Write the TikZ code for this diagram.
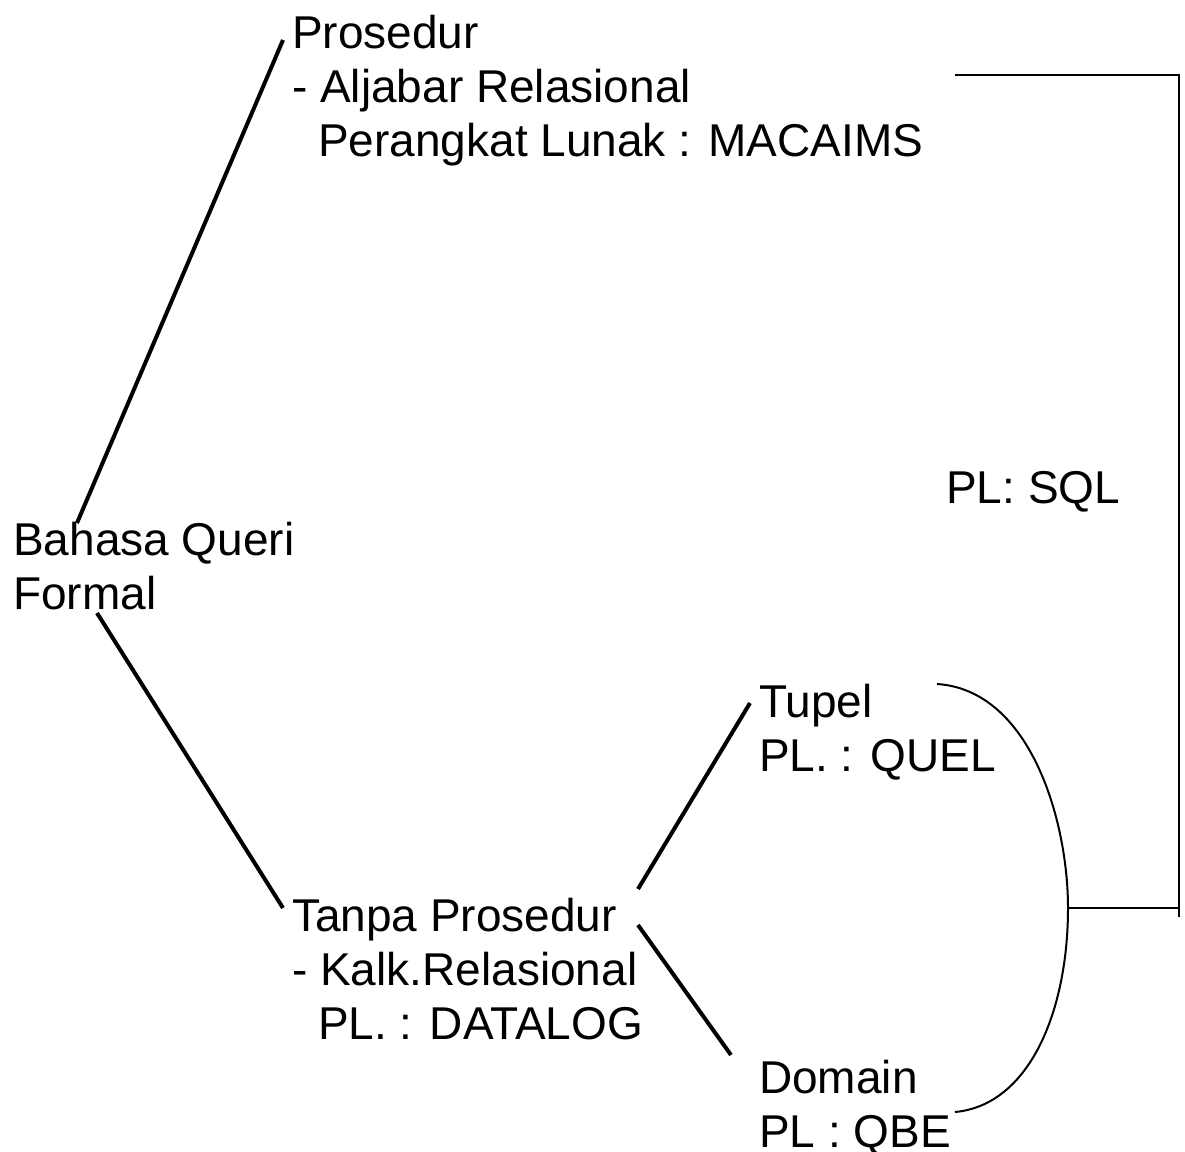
\documentclass[tikz,border=0pt]{standalone}
\usepackage{fontspec}
\setmainfont{Liberation Sans}
\begin{document}
\begin{tikzpicture}[x=1pt,y=-1pt,
  txt/.style={anchor=base west,inner sep=0pt,font=\fontsize{46}{54}\selectfont},
  thick line/.style={line width=4pt},
  thin line/.style={line width=2pt}]
\useasboundingbox (0,0) rectangle (1185,1151);
% texts
\node[txt] (pro1) at (292,48) {Prosedur};
\node[txt] (pro2) at (292,102) {- Aljabar Relasional};
\node[txt] (pro3) at (318,156) {Perangkat Lunak : MACAIMS};
\node[txt] (bq1) at (13,555) {Bahasa Queri};
\node[txt] (bq2) at (13,609) {Formal};
\node[txt] (tp1) at (292,931) {Tanpa Prosedur};
\node[txt] (tp2) at (292,985) {- Kalk.Relasional};
\node[txt] (tp3) at (318,1039) {PL. : DATALOG};
\node[txt] (tu1) at (759,717) {Tupel};
\node[txt] (tu2) at (759,771) {PL. : QUEL};
\node[txt] (do1) at (759,1093) {Domain};
\node[txt] (do2) at (759,1147) {PL : QBE};
\node[txt] (sql) at (946,503) {PL: SQL};
% connector end points
\coordinate (bqTop) at (77,523);
\coordinate (bqBot) at (97,613);
\coordinate (proEnd) at (283,40);
\coordinate (tpEnd) at (283,908);
\coordinate (tpUp) at (638,889);
\coordinate (tpDown) at (638,925);
\coordinate (tuEnd) at (750,703);
\coordinate (doEnd) at (731,1055);
\coordinate (cTop) at (937,684);
\coordinate (cMid) at (1068,908);
\coordinate (cBot) at (955,1112);
\coordinate (bTop) at (955,75);
\coordinate (bCorner) at (1179,75);
\coordinate (bRight) at (1179,917);
\coordinate (bJoin) at (1179,908);
% lines
\draw[thick line] (bqTop) -- (proEnd);
\draw[thick line] (bqBot) -- (tpEnd);
\draw[thick line] (tpUp) -- (tuEnd);
\draw[thick line] (tpDown) -- (doEnd);
\draw[thin line] (cTop) .. controls (1030,690) and (1068,820) .. (cMid)
  .. controls (1068,1010) and (1030,1105) .. (cBot);
\draw[thin line] (cMid) -- (bJoin);
\draw[thin line] (bTop) -- (bCorner) -- (bRight);
\end{tikzpicture}
\end{document}
